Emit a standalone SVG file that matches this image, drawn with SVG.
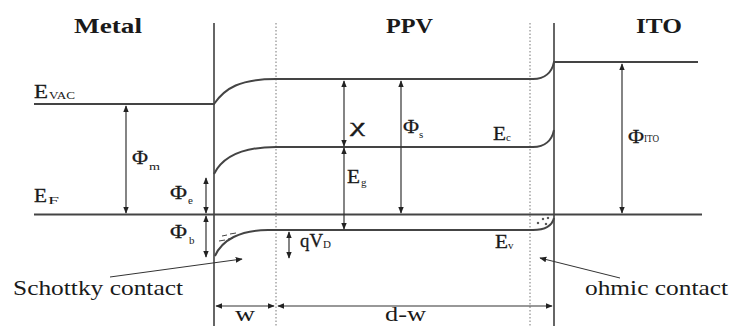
<svg xmlns="http://www.w3.org/2000/svg" width="733" height="326" viewBox="0 0 733 326" font-family="'Liberation Serif', 'Times New Roman', serif">
<style>
text{font-family:'Liberation Serif','Times New Roman',serif;fill:#1a1a1a}
.big{font-size:21px}
.ttl{font-size:21px;font-weight:bold}
.lab{font-size:19px;stroke:#1a1a1a;stroke-width:0.3}
.sub{font-size:11px}
.lvl{fill:none;stroke:#444;stroke-width:2}
.ifc{fill:none;stroke:#666;stroke-width:2}
.dot{fill:none;stroke:#777;stroke-width:1;stroke-dasharray:1.5 2}
.arr{fill:none;stroke:#333;stroke-width:1.2;marker-start:url(#ah);marker-end:url(#ah)}
.ptr{fill:none;stroke:#333;stroke-width:1;marker-end:url(#ah)}
</style>
<defs>
<marker id="ah" viewBox="0 0 10 10" refX="9" refY="5" markerWidth="7" markerHeight="7" orient="auto-start-reverse" markerUnits="userSpaceOnUse">
<path d="M0,1 L10,5 L0,9 Z" fill="#222"/>
</marker>
</defs>
<rect width="733" height="326" fill="#fff"/>

<g id="interfaces">
<line class="ifc" x1="214" y1="23" x2="214" y2="326"/>
<line class="ifc" x1="554" y1="23" x2="554" y2="326"/>
<line class="dot" x1="276" y1="23" x2="276" y2="326"/>
<line class="dot" x1="530" y1="23" x2="530" y2="326"/>
</g>

<g id="levels">
<path id="evac" class="lvl" d="M34,104 L214,104 C225,88 240,79 276,79 L533,79 C545,79 552,72 554,62 L698,62"/>
<path id="ec" class="lvl" d="M214,174 C222,158 240,147 276,147 L533,147 C545,147 552,140 554,130"/>
<path id="ef" class="lvl" d="M34,214.5 L702,214.5"/>
<path id="ev" class="lvl" d="M215,256 C222,240 240,230 268,230 L533,230 C545,230 552,226 554,218"/>
<g id="carriers" stroke="#444" stroke-width="1" fill="none">
<path d="M219,241 L225,240 M228,239 L233,238 M222,236 L227,235 M230,234 L236,233"/>
<circle cx="538" cy="223" r="0.8" fill="#333"/>
<circle cx="543" cy="219" r="0.8" fill="#333"/>
<circle cx="546" cy="224" r="0.8" fill="#333"/>
<circle cx="548" cy="218" r="0.8" fill="#333"/>
</g>
</g>

<g id="connectors">
<line class="arr" x1="126" y1="106" x2="126" y2="213"/>
<line class="arr" x1="206" y1="178" x2="206" y2="213"/>
<line class="arr" x1="206" y1="216" x2="206" y2="257"/>
<line class="arr" x1="344" y1="81" x2="344" y2="146"/>
<line class="arr" x1="344" y1="148" x2="344" y2="229"/>
<line class="arr" x1="401" y1="81" x2="401" y2="213"/>
<line class="arr" x1="622" y1="64" x2="622" y2="213"/>
<line class="arr" x1="289" y1="232" x2="289" y2="258"/>
<line class="arr" x1="216" y1="306" x2="274" y2="306"/>
<line class="arr" x1="278" y1="306" x2="552" y2="306"/>
<line class="ptr" x1="110" y1="277" x2="242" y2="259"/>
<line class="ptr" x1="620" y1="278" x2="540" y2="258"/>
</g>

<g id="titles">
<text class="ttl" x="74" y="33" textLength="68" lengthAdjust="spacingAndGlyphs">Metal</text>
<text class="ttl" x="386" y="33" textLength="47" lengthAdjust="spacingAndGlyphs">PPV</text>
<text class="ttl" x="636" y="33" textLength="46" lengthAdjust="spacingAndGlyphs">ITO</text>
</g>

<g id="labels">
<g id="l-evac"><text class="lab" x="34" y="98" textLength="14" lengthAdjust="spacingAndGlyphs">E</text><text class="sub" x="49" y="99" textLength="26" lengthAdjust="spacingAndGlyphs">VAC</text></g>
<g id="l-ef"><text class="lab" x="34" y="202" textLength="13" lengthAdjust="spacingAndGlyphs">E</text><text class="sub" x="48" y="204" textLength="11" lengthAdjust="spacingAndGlyphs">F</text></g>
<g id="l-phim"><text class="lab" x="132" y="164" textLength="16" lengthAdjust="spacingAndGlyphs">Φ</text><text class="sub" x="149" y="170" textLength="11" lengthAdjust="spacingAndGlyphs">m</text></g>
<g id="l-phie"><text class="lab" x="170" y="199" textLength="17" lengthAdjust="spacingAndGlyphs">Φ</text><text class="sub" x="188" y="204">e</text></g>
<g id="l-phib"><text class="lab" x="170" y="238" textLength="17" lengthAdjust="spacingAndGlyphs">Φ</text><text class="sub" x="189" y="244">b</text></g>
<g id="l-chi"><text class="lab" x="350" y="132" textLength="15" lengthAdjust="spacingAndGlyphs">χ</text></g>
<g id="l-phis"><text class="lab" x="403" y="133" textLength="16" lengthAdjust="spacingAndGlyphs">Φ</text><text class="sub" x="419" y="138">s</text></g>
<g id="l-ec"><text class="lab" x="493" y="140" textLength="13" lengthAdjust="spacingAndGlyphs">E</text><text class="sub" x="506" y="141">c</text></g>
<g id="l-eg"><text class="lab" x="347" y="183" textLength="13" lengthAdjust="spacingAndGlyphs">E</text><text class="sub" x="361" y="186">g</text></g>
<g id="l-phiito"><text class="lab" x="628" y="143" textLength="16" lengthAdjust="spacingAndGlyphs">Φ</text><text class="sub" x="644" y="142" textLength="15" lengthAdjust="spacingAndGlyphs">ITO</text></g>
<g id="l-qvd"><text class="lab" x="300" y="247" textLength="23" lengthAdjust="spacingAndGlyphs">qV</text><text class="sub" x="323" y="248">D</text></g>
<g id="l-ev"><text class="lab" x="495" y="248" textLength="13" lengthAdjust="spacingAndGlyphs">E</text><text class="sub" x="508" y="249">v</text></g>
<text class="big" x="13" y="295" textLength="170" lengthAdjust="spacingAndGlyphs">Schottky contact</text>
<text class="big" x="585" y="295" textLength="143" lengthAdjust="spacingAndGlyphs">ohmic contact</text>
<text class="big" x="235" y="321" textLength="20" lengthAdjust="spacingAndGlyphs">w</text>
<text class="big" x="385" y="321" textLength="41" lengthAdjust="spacingAndGlyphs">d-w</text>
</g>
</svg>
